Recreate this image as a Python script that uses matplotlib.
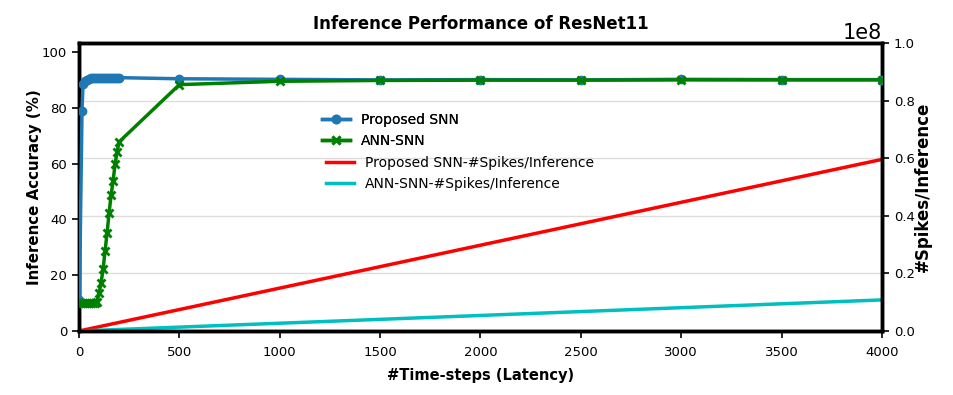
import matplotlib
matplotlib.use("Agg")
import matplotlib.pyplot as plt

# accuracy curves (timesteps vs %)
snn_steps = [2, 15, 20, 30, 40, 50, 60, 70, 80, 90, 100, 110, 120, 130, 140,
             150, 160, 170, 180, 190, 200, 500, 1000, 1500, 2000, 2500, 3000,
             3500, 4000]
snn_acc = [11.0, 79.0, 88.5, 89.5, 90.0, 90.3, 90.5, 90.6, 90.6, 90.7, 90.7,
           90.8, 90.8, 90.8, 90.8, 90.8, 90.8, 90.8, 90.8, 90.8, 90.8, 90.4,
           90.2, 90.0, 90.1, 90.0, 90.2, 90.1, 90.1]

ann_steps = [10, 20, 30, 40, 50, 60, 70, 80, 90, 100, 110, 120, 130, 140, 150,
             160, 170, 180, 190, 200, 500, 1000, 1500, 2000, 2500, 3000, 3500,
             4000]
ann_acc = [10.0, 10.0, 10.0, 10.0, 10.0, 10.0, 10.0, 10.0, 10.5, 13.5, 17.3,
           22.1, 28.8, 35.2, 42.4, 48.7, 53.9, 59.9, 64.3, 67.8, 88.3, 89.5,
           89.8, 89.9, 89.9, 90.0, 90.0, 90.0]

# spikes per inference
spike_steps = [0, 500, 1000, 1500, 2000, 2500, 3000, 3500, 4000]
snn_spikes = [0.0, 0.0745e8, 0.149e8, 0.2235e8, 0.298e8, 0.3725e8, 0.447e8,
              0.5215e8, 0.596e8]
ann_spikes = [0.0, 0.0135e8, 0.027e8, 0.0405e8, 0.054e8, 0.0675e8, 0.081e8,
              0.0945e8, 0.108e8]

fig = plt.figure(figsize=(9.54, 3.95), dpi=100)
ax1 = fig.add_axes([0.0828, 0.162, 0.8417, 0.729])
ax2 = ax1.twinx()

ax2.grid(True, axis="y", color="#dddddd", linewidth=1)
ax2.set_axisbelow(True)

l1, = ax1.plot(snn_steps, snn_acc, "-o", color="#1f77b4", lw=2.5, ms=6,
               label="Proposed SNN", zorder=3)
l2, = ax1.plot(ann_steps, ann_acc, "-x", color="g", lw=2.5, ms=6, mew=2,
               label="ANN-SNN", zorder=4)
l3, = ax2.plot(spike_steps, snn_spikes, "-", color="r", lw=2.5,
               label="Proposed SNN-#Spikes/Inference")
l4, = ax2.plot(spike_steps, ann_spikes, "-", color="c", lw=2.5,
               label="ANN-SNN-#Spikes/Inference")

# accuracy axis drawn above the spikes axis
ax1.set_zorder(ax2.get_zorder() + 1)
ax1.patch.set_visible(False)

ax1.set_xlim(0, 4000)
ax1.set_ylim(0, 103.2)
ax2.set_ylim(0, 1.0e8)
ax1.set_xticks(range(0, 4001, 500))
ax1.set_yticks(range(0, 101, 20))
ax2.set_yticks([0, 0.2e8, 0.4e8, 0.6e8, 0.8e8, 1.0e8])

for a in (ax1, ax2):
    a.tick_params(labelsize=9.5, width=1.2, length=5)
    for s in a.spines.values():
        s.set_linewidth(2.5)
ax1.tick_params(axis="x", pad=6)
ax2.yaxis.get_offset_text().set_fontsize(15)

ax1.set_xlabel("#Time-steps (Latency)", fontsize=10.5, fontweight="bold",
               labelpad=6)
ax1.set_ylabel("Inference Accuracy (%)", fontsize=10.8, fontweight="bold",
               labelpad=0)
ax2.set_ylabel("#Spikes/Inference", fontsize=12, fontweight="bold",
               labelpad=-1)
ax1.set_title("Inference Performance of ResNet11", fontsize=12,
              fontweight="bold", pad=10)

leg1 = ax1.legend(handles=[l1, l2], loc="upper left", frameon=False,
                  fontsize=10, bbox_to_anchor=(0.287, 0.80), handlelength=2)
ax1.add_artist(leg1)
ax2.legend(handles=[l3, l4], loc="upper left", frameon=False, fontsize=10,
           bbox_to_anchor=(0.292, 0.65), handlelength=2)

fig.savefig("out.png", dpi=100)
